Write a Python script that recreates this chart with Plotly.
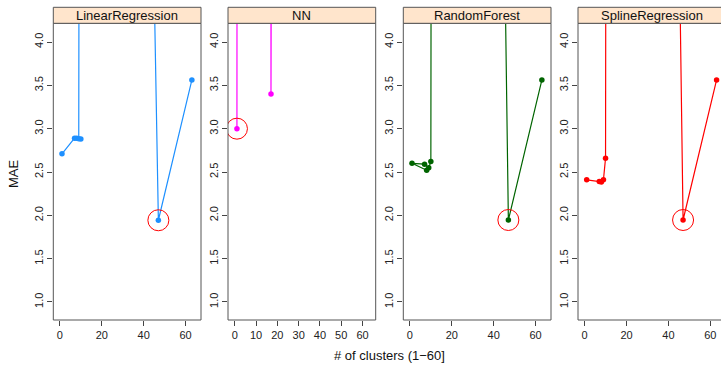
import plotly.graph_objects as go

# ---------------- data ----------------
panels = ["LinearRegression", "NN", "RandomForest", "SplineRegression"]
colors = ["#1E90FF", "#FF00FF", "#006400", "#FF0000"]

# number of clusters / MAE (large values are off the top of the panels)
lr_k = [1, 7, 8, 10, 9, 20, 45, 47, 63]
lr_mae = [2.71, 2.89, 2.89, 2.88, 2.885, 200, 4.62, 1.943, 3.562]

nn_k = [1, 9, 17, 30, 47, 63]
nn_mae = [3.00, 500, 3.40, 500, 500, 500]

rf_k = [8, 1, 7, 9, 10, 20, 45, 47, 63]
rf_mae = [2.52, 2.60, 2.59, 2.55, 2.62, 200, 5.44, 1.946, 3.562]

sr_k = [1, 7, 8, 9, 10, 20, 45, 47, 63]
sr_mae = [2.41, 2.39, 2.385, 2.41, 2.66, 200, 5.44, 1.946, 3.562]

series_k = [lr_k, nn_k, rf_k, sr_k]
series_mae = [lr_mae, nn_mae, rf_mae, sr_mae]

y_ticks = [1.0, 1.5, 2.0, 2.5, 3.0, 3.5, 4.0]
x_ticks_default = [0, 20, 40, 60]
x_ticks_nn = [0, 10, 20, 30, 40, 50, 60]

# ---------------- layout geometry (pixels) ----------------
W, H = 721, 365
lefts = [53.3, 228.0, 403.3, 578.0]
pw = 147.7
top_px, bot_px = 23.3, 320.0
strip_top_px = 7.3
x_ranges = [[-3.15, 67.35], [-3.2, 66.2], [-3.15, 67.35], [-3.15, 67.35]]
y_range = [0.792, 4.216]

def px_x(p):
    return p / W

def px_y(p):
    return 1 - p / H

fig = go.Figure()
font_fam = "Liberation Sans, Arial, Helvetica, sans-serif"
shapes = []
annotations = []

for i, name in enumerate(panels):
    n = "" if i == 0 else str(i + 1)
    xa, ya = "x" + n, "y" + n
    k, m = series_k[i], series_mae[i]
    fig.add_trace(go.Scatter(
        x=k, y=m, xaxis=xa, yaxis=ya, mode="lines+markers",
        line=dict(color=colors[i], width=1.2),
        marker=dict(color=colors[i], size=5.5),
        showlegend=False, hoverinfo="skip"))
    # highlight the minimum
    j = min(range(len(m)), key=lambda t: m[t])
    fig.add_trace(go.Scatter(
        x=[k[j]], y=[m[j]], xaxis=xa, yaxis=ya, mode="markers",
        marker=dict(symbol="circle-open", size=21, color="#FF0000",
                    line=dict(width=1, color="#FF0000")),
        showlegend=False, hoverinfo="skip"))

    x0 = px_x(lefts[i])
    x1 = min(1.0, px_x(lefts[i] + pw))
    full_right = lefts[i] + pw
    xr = list(x_ranges[i])
    if full_right > W:
        scale = (xr[1] - xr[0]) / pw
        xr[1] = xr[0] + (W - lefts[i]) * scale
    ticks = x_ticks_nn if name == "NN" else x_ticks_default
    fig.update_layout(**{
        ("xaxis" + n): dict(domain=[x0, x1], range=xr, anchor=ya,
                            tickvals=ticks, ticktext=[str(t) for t in ticks],
                            ticks="outside", ticklen=5, tickcolor="#444",
                            tickfont=dict(size=11, color="#222", family=font_fam),
                            showgrid=False, zeroline=False, showline=False),
        ("yaxis" + n): dict(domain=[px_y(bot_px), px_y(top_px)], range=y_range,
                            anchor=xa, tickvals=y_ticks,
                            ticktext=["%.1f" % v for v in y_ticks],
                            tickangle=-90, ticks="outside", ticklen=5,
                            tickcolor="#444",
                            tickfont=dict(size=11, color="#222", family=font_fam),
                            showgrid=False, zeroline=False, showline=False),
    })
    # panel border
    shapes.append(dict(type="rect", xref="paper", yref="paper",
                       x0=px_x(lefts[i]), x1=px_x(lefts[i] + pw),
                       y0=px_y(bot_px), y1=px_y(top_px),
                       line=dict(color="#555", width=1), layer="above"))
    # strip
    shapes.append(dict(type="rect", xref="paper", yref="paper",
                       x0=px_x(lefts[i]), x1=px_x(lefts[i] + pw),
                       y0=px_y(top_px), y1=px_y(strip_top_px),
                       fillcolor="#FFE5CC", line=dict(color="#555", width=1),
                       layer="above"))
    annotations.append(dict(text=name, xref="paper", yref="paper",
                            x=px_x(lefts[i] + pw / 2),
                            y=px_y((top_px + strip_top_px) / 2),
                            xanchor="center", yanchor="middle", showarrow=False,
                            font=dict(size=13, color="#111", family=font_fam)))

annotations.append(dict(text="MAE", xref="paper", yref="paper",
                        x=px_x(14), y=px_y(173), textangle=-90,
                        xanchor="center", yanchor="middle", showarrow=False,
                        font=dict(size=13, color="#111", family=font_fam)))
annotations.append(dict(text="# of clusters (1\u221260]", xref="paper", yref="paper",
                        x=px_x(389.5), y=px_y(355), xanchor="center",
                        yanchor="middle", showarrow=False,
                        font=dict(size=13, color="#111", family=font_fam)))

fig.update_layout(width=W, height=H, margin=dict(l=0, r=0, t=0, b=0),
                  paper_bgcolor="white", plot_bgcolor="white",
                  shapes=shapes, annotations=annotations)

fig.write_html("out.html")
